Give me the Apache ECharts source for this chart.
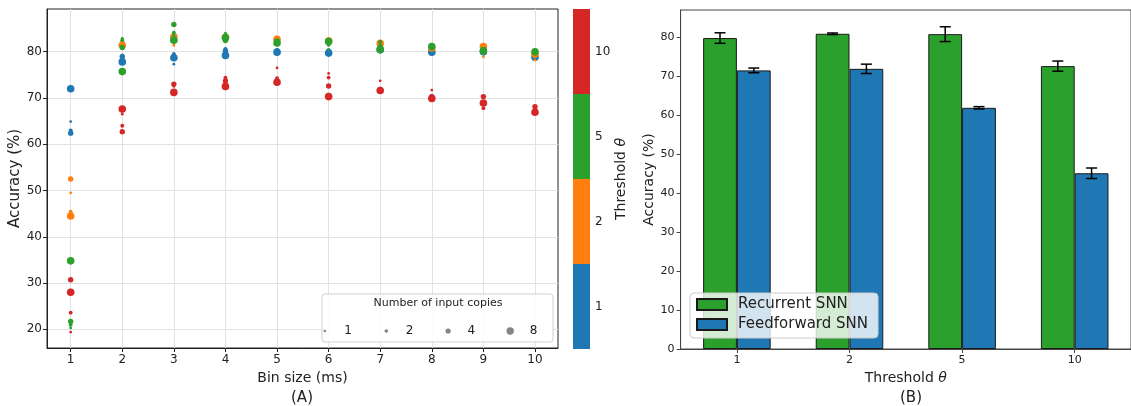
<!DOCTYPE html>
<html><head><meta charset="utf-8">
<script src="https://cdn.jsdelivr.net/npm/echarts@6.0.0/dist/echarts.min.js"></script>
<style>html,body{margin:0;padding:0;background:#fff}#c{width:1131px;height:406px}</style>
</head><body><div id="c"></div>
<script>
// ---------- Data (A): accuracy per bin size, columns = input copies [1,2,4,8]
const binSizes = [1, 2, 3, 4, 5, 6, 7, 8, 9, 10];
const thresholds = ['1', '2', '5', '10'];
const copies = [1, 2, 4, 8];
const accTheta1 = [
  [64.9, 63.0, 62.4, 72.0], [79.0, 79.2, 78.9, 77.8], [77.3, 79.5, 79.0, 78.7], [80.0, 80.6, 80.2, 79.2],
  [80.5, 80.3, 80.0, 79.9], [80.0, 80.3, 80.1, 79.7], [80.5, 80.7, 80.3, 80.4], [80.2, 80.0, 80.3, 79.9],
  [79.8, 80.0, 79.9, 80.0], [79.0, 79.2, 79.0, 78.8]
];
const accTheta2 = [
  [49.5, 45.4, 52.5, 44.5], [81.0, 81.5, 81.8, 81.4], [81.4, 82.5, 83.0, 83.2], [82.5, 83.0, 82.8, 83.1],
  [82.0, 82.5, 82.7, 82.7], [82.0, 82.3, 82.5, 82.3], [81.5, 81.7, 81.9, 81.8], [80.5, 80.8, 81.0, 80.8],
  [78.9, 80.5, 80.8, 81.1], [78.2, 79.0, 79.3, 79.5]
];
const accTheta5 = [
  [20.3, 21.0, 21.7, 34.8], [82.9, 82.5, 80.9, 75.7], [83.5, 84.1, 85.9, 82.5], [84.0, 83.6, 82.4, 83.0],
  [81.5, 82.0, 82.3, 81.9], [80.4, 81.5, 82.0, 82.2], [81.5, 82.1, 81.0, 80.5], [80.8, 81.0, 81.2, 81.1],
  [79.5, 80.0, 80.5, 80.2], [79.5, 79.7, 80.0, 80.0]
];
const accTheta10 = [
  [19.4, 23.6, 30.7, 28.0], [66.5, 64.0, 62.7, 67.6], [72.5, 73.0, 73.0, 71.2], [74.0, 74.4, 73.7, 72.5],
  [76.5, 74.3, 73.7, 73.4], [75.3, 74.4, 72.6, 70.3], [73.7, 72.0, 71.8, 71.6], [71.7, 70.5, 70.3, 69.9],
  [68.5, 67.8, 70.3, 68.9], [67.5, 67.2, 68.1, 66.9]
];
const xTicksA = [1, 2, 3, 4, 5, 6, 7, 8, 9, 10];
const yTicksA = [20, 30, 40, 50, 60, 70, 80];

// ---------- Data (B)
const barThresholds = ['1', '2', '5', '10'];
const recurrentAcc = [79.8, 80.9, 80.8, 72.6];
const recurrentErr = [1.35, 0.2, 1.9, 1.3];
const feedforwardAcc = [71.5, 71.9, 61.9, 45.1];
const feedforwardErr = [0.6, 1.2, 0.3, 1.35];
const yTicksB = [0, 10, 20, 30, 40, 50, 60, 70, 80];

// ---------- Styles
const FONT = 'DejaVu Sans';
const TXT = '#222';
const thColors = ['#1f77b4', '#ff7f0e', '#2ca02c', '#d62728'];
const sizeOf = {1: 2.8, 2: 3.9, 4: 5.4, 8: 7.6};
const legendSize = {1: 2.6, 2: 3.6, 4: 5.2, 8: 7.4};
const GREEN = '#2ca02c', BLUE = '#1f77b4';
const thetaName = fs => ({
  fontFamily: FONT, fontSize: fs, color: TXT,
  rich: {a: {fontFamily: FONT, fontSize: fs, color: TXT},
         b: {fontFamily: FONT, fontSize: fs, color: TXT, fontStyle: 'italic'}}
});

const accAll = [accTheta1, accTheta2, accTheta5, accTheta10];
const scatterSeries = accAll.map((tbl, ti) => {
  const data = [];
  binSizes.forEach((b, bi) => copies.forEach((c, ci) => data.push([b, tbl[bi][ci], c])));
  return {
    type: 'scatter', name: 'theta' + thresholds[ti], xAxisIndex: 0, yAxisIndex: 0,
    data, symbolSize: v => sizeOf[v[2]],
    itemStyle: {color: thColors[ti], opacity: 1}, z: 2, silent: true
  };
});
const legendDummies = copies.map(c => ({
  type: 'scatter', name: String(c), xAxisIndex: 0, yAxisIndex: 0, data: [],
  itemStyle: {color: '#666'}
}));
const legendCenters = [338, 399, 460, 521];
const copyLegends = copies.map((c, i) => ({
  data: [String(c)], icon: 'circle', itemWidth: 29, itemHeight: legendSize[c],
  left: legendCenters[i] - 14.5, top: 325, padding: 0, selectedMode: false,
  textStyle: {fontFamily: FONT, fontSize: 12, color: TXT}, z: 5
}));

function errSeries(name, vals, errs, sign) {
  return {
    type: 'custom', name, xAxisIndex: 2, yAxisIndex: 2, z: 5, silent: true,
    data: vals.map((v, i) => [i, v, errs[i]]),
    renderItem(params, api) {
      const i = api.value(0), v = api.value(1), e = api.value(2);
      const band = api.size([1, 0])[0];
      const off = sign * band * 0.15;
      const t = api.coord([i, v + e]), b = api.coord([i, v - e]);
      const cx = t[0] + off, hw = 5.5;
      const st = {stroke: '#000', lineWidth: 1.5};
      return {type: 'group', children: [
        {type: 'line', shape: {x1: cx, y1: t[1], x2: cx, y2: b[1]}, style: st},
        {type: 'line', shape: {x1: cx - hw, y1: t[1], x2: cx + hw, y2: t[1]}, style: st},
        {type: 'line', shape: {x1: cx - hw, y1: b[1], x2: cx + hw, y2: b[1]}, style: st}
      ]};
    }
  };
}

const chart = echarts.init(document.getElementById('c'), null, {renderer: 'canvas'});
chart.setOption({
  animation: false,
  backgroundColor: '#fff',
  textStyle: {fontFamily: FONT},
  grid: [
    {left: 47, top: 9, width: 511, height: 339, show: true, borderColor: '#222', borderWidth: 1},
    {left: 573, top: 9, width: 17, height: 340, show: false},
    {left: 680.6, top: 10, width: 458.8, height: 339, show: true, borderColor: '#444', borderWidth: 1}
  ],
  xAxis: [
    {gridIndex: 0, type: 'value', min: 0.541, max: 10.446, splitNumber: 10,
     name: 'Bin size (ms)', nameLocation: 'middle', nameGap: 19,
     nameTextStyle: {fontFamily: FONT, fontSize: 14, color: TXT},
     axisLine: {show: true, lineStyle: {color: '#222'}},
     axisTick: {show: true, length: 4, lineStyle: {color: '#222'}, customValues: xTicksA},
     axisLabel: {customValues: xTicksA, fontSize: 12, color: TXT, margin: 6, fontFamily: FONT},
     splitLine: {show: true, lineStyle: {color: '#e2e2e2', width: 1}}},
    {gridIndex: 1, type: 'value', min: 0, max: 1, show: false},
    {gridIndex: 2, type: 'category', data: barThresholds,
     name: '{a|Threshold }{b|θ}', nameLocation: 'middle', nameGap: 20,
     nameTextStyle: thetaName(14),
     axisLine: {show: true, lineStyle: {color: '#444'}},
     axisTick: {show: true, alignWithLabel: true, length: 4, lineStyle: {color: '#444'}},
     axisLabel: {fontSize: 11, color: TXT, margin: 6, fontFamily: FONT},
     splitLine: {show: false}}
  ],
  yAxis: [
    {gridIndex: 0, type: 'value', min: 15.96, max: 89.23, splitNumber: 7,
     name: 'Accuracy (%)', nameLocation: 'middle', nameGap: 22, nameRotate: 90,
     nameTextStyle: {fontFamily: FONT, fontSize: 15, color: TXT},
     axisLine: {show: true, lineStyle: {color: '#222'}},
     axisTick: {show: true, length: 4, lineStyle: {color: '#222'}, customValues: yTicksA},
     axisLabel: {customValues: yTicksA, fontSize: 12, color: TXT, margin: 5, fontFamily: FONT},
     splitLine: {show: true, lineStyle: {color: '#e2e2e2', width: 1}}},
    {gridIndex: 1, type: 'category', data: thresholds, position: 'right',
     name: '{a|Threshold }{b|θ}', nameLocation: 'middle', nameGap: 22, nameRotate: 90,
     nameTextStyle: thetaName(14),
     axisLine: {show: false},
     axisTick: {show: true, alignWithLabel: true, length: 4, lineStyle: {color: '#222'}},
     axisLabel: {fontSize: 12, color: TXT, margin: 5, fontFamily: FONT},
     splitLine: {show: false}},
    {gridIndex: 2, type: 'value', min: 0, max: 87,
     name: 'Accuracy (%)', nameLocation: 'middle', nameGap: 24, nameRotate: 90,
     nameTextStyle: {fontFamily: FONT, fontSize: 14, color: TXT},
     axisLine: {show: true, lineStyle: {color: '#444'}},
     axisTick: {show: true, length: 4, lineStyle: {color: '#444'}, customValues: yTicksB},
     axisLabel: {customValues: yTicksB, fontSize: 11, color: TXT, margin: 6, fontFamily: FONT},
     splitLine: {show: false}}
  ],
  legend: copyLegends.concat([{
    data: ['Recurrent SNN', 'Feedforward SNN'], orient: 'vertical', left: 690, top: 293,
    icon: 'rect', itemWidth: 30, itemHeight: 11, itemGap: 5, selectedMode: false,
    padding: [4, 10, 6, 6],
    backgroundColor: 'rgba(255,255,255,0.8)', borderColor: '#ccc', borderWidth: 1, borderRadius: 4,
    textStyle: {fontFamily: FONT, fontSize: 15, color: TXT, padding: [0, 0, 0, 6]}, z: 6
  }]),
  graphic: [
    {type: 'rect', z: 3, shape: {x: 322, y: 294, width: 231, height: 48, r: 3},
     style: {fill: 'rgba(255,255,255,0.85)', stroke: '#d0d0d0', lineWidth: 1}},
    {type: 'text', z: 5, x: 438, y: 303,
     style: {text: 'Number of input copies', fontFamily: FONT, fontSize: 11, fill: TXT, align: 'center', verticalAlign: 'middle'}},
    {type: 'text', z: 5, x: 302, y: 398,
     style: {text: '(A)', fontFamily: FONT, fontSize: 15, fill: TXT, align: 'center', verticalAlign: 'middle'}},
    {type: 'text', z: 5, x: 911, y: 398,
     style: {text: '(B)', fontFamily: FONT, fontSize: 15, fill: TXT, align: 'center', verticalAlign: 'middle'}}
  ],
  series: scatterSeries.concat(legendDummies, [
    {type: 'bar', name: 'colorbar', xAxisIndex: 1, yAxisIndex: 1, silent: true,
     barWidth: '100%', barCategoryGap: '0%',
     data: thresholds.map((t, i) => ({value: 1, itemStyle: {color: thColors[i]}}))},
    {type: 'bar', name: 'Recurrent SNN', xAxisIndex: 2, yAxisIndex: 2, data: recurrentAcc,
     barGap: '0%', barCategoryGap: '40%',
     itemStyle: {color: GREEN, borderColor: '#1a1a1a', borderWidth: 1}},
    {type: 'bar', name: 'Feedforward SNN', xAxisIndex: 2, yAxisIndex: 2, data: feedforwardAcc,
     barGap: '0%', barCategoryGap: '40%',
     itemStyle: {color: BLUE, borderColor: '#1a1a1a', borderWidth: 1}},
    errSeries('errRec', recurrentAcc, recurrentErr, -1),
    errSeries('errFf', feedforwardAcc, feedforwardErr, 1)
  ])
});
</script></body></html>
